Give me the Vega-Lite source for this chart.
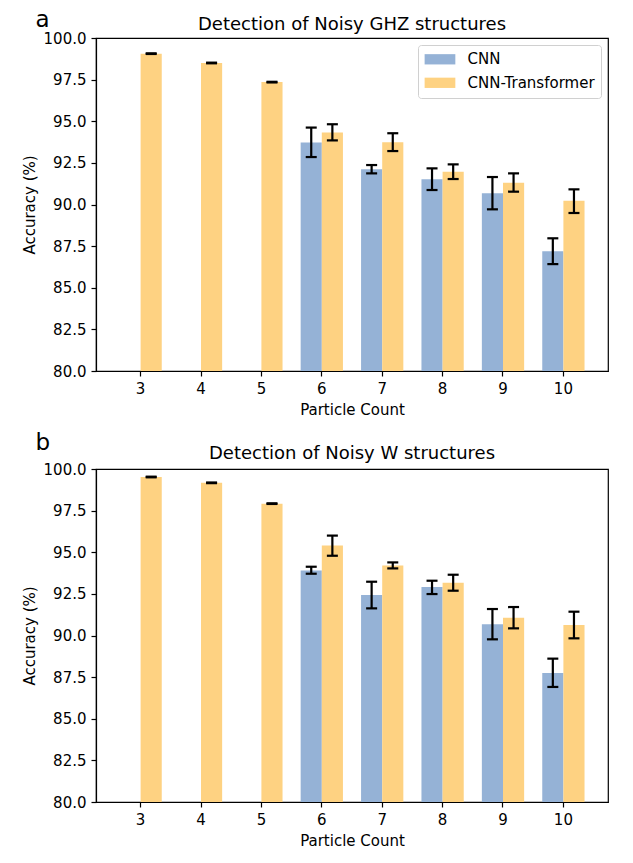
{
  "$schema": "https://vega.github.io/schema/vega-lite/v6.json",
  "background": "white",
  "padding": {"left": 21, "top": 9, "right": 10, "bottom": 5},
  "datasets": {
    "acc": [
      {"panel": "GHZ", "n": 3, "model": "CNN-Transformer", "acc": 99.06, "lo": 99.04, "hi": 99.08},
      {"panel": "GHZ", "n": 4, "model": "CNN-Transformer", "acc": 98.5, "lo": 98.48, "hi": 98.52},
      {"panel": "GHZ", "n": 5, "model": "CNN-Transformer", "acc": 97.35, "lo": 97.33, "hi": 97.37},
      {"panel": "GHZ", "n": 6, "model": "CNN", "acc": 93.72, "lo": 92.85, "hi": 94.62},
      {"panel": "GHZ", "n": 6, "model": "CNN-Transformer", "acc": 94.32, "lo": 93.85, "hi": 94.82},
      {"panel": "GHZ", "n": 7, "model": "CNN", "acc": 92.12, "lo": 91.87, "hi": 92.37},
      {"panel": "GHZ", "n": 7, "model": "CNN-Transformer", "acc": 93.74, "lo": 93.21, "hi": 94.28},
      {"panel": "GHZ", "n": 8, "model": "CNN", "acc": 91.52, "lo": 90.87, "hi": 92.17},
      {"panel": "GHZ", "n": 8, "model": "CNN-Transformer", "acc": 91.96, "lo": 91.53, "hi": 92.41},
      {"panel": "GHZ", "n": 9, "model": "CNN", "acc": 90.67, "lo": 89.71, "hi": 91.65},
      {"panel": "GHZ", "n": 9, "model": "CNN-Transformer", "acc": 91.3, "lo": 90.77, "hi": 91.87},
      {"panel": "GHZ", "n": 10, "model": "CNN", "acc": 87.19, "lo": 86.42, "hi": 87.97},
      {"panel": "GHZ", "n": 10, "model": "CNN-Transformer", "acc": 90.22, "lo": 89.49, "hi": 90.91},
      {"panel": "W", "n": 3, "model": "CNN-Transformer", "acc": 99.52, "lo": 99.5, "hi": 99.54},
      {"panel": "W", "n": 4, "model": "CNN-Transformer", "acc": 99.17, "lo": 99.15, "hi": 99.19},
      {"panel": "W", "n": 5, "model": "CNN-Transformer", "acc": 97.92, "lo": 97.9, "hi": 97.94},
      {"panel": "W", "n": 6, "model": "CNN", "acc": 93.91, "lo": 93.71, "hi": 94.13},
      {"panel": "W", "n": 6, "model": "CNN-Transformer", "acc": 95.4, "lo": 94.79, "hi": 96.0},
      {"panel": "W", "n": 7, "model": "CNN", "acc": 92.43, "lo": 91.63, "hi": 93.23},
      {"panel": "W", "n": 7, "model": "CNN-Transformer", "acc": 94.21, "lo": 94.03, "hi": 94.39},
      {"panel": "W", "n": 8, "model": "CNN", "acc": 92.91, "lo": 92.49, "hi": 93.29},
      {"panel": "W", "n": 8, "model": "CNN-Transformer", "acc": 93.17, "lo": 92.69, "hi": 93.65},
      {"panel": "W", "n": 9, "model": "CNN", "acc": 90.67, "lo": 89.77, "hi": 91.59},
      {"panel": "W", "n": 9, "model": "CNN-Transformer", "acc": 91.07, "lo": 90.43, "hi": 91.71},
      {"panel": "W", "n": 10, "model": "CNN", "acc": 87.75, "lo": 86.91, "hi": 88.61},
      {"panel": "W", "n": 10, "model": "CNN-Transformer", "acc": 90.63, "lo": 89.83, "hi": 91.43}
    ]
  },
  "config": {
    "font": "DejaVu Sans",
    "view": {"stroke": "black", "strokeWidth": 1.2},
    "concat": {"spacing": 14},
    "axis": {
      "grid": false,
      "domainColor": "black",
      "domainWidth": 1.2,
      "tickColor": "black",
      "tickWidth": 1.2,
      "tickSize": 5,
      "labelColor": "black",
      "titleColor": "black",
      "labelFont": "DejaVu Sans",
      "titleFont": "DejaVu Sans",
      "labelFontSize": 15,
      "titleFontSize": 15,
      "titleFontWeight": "normal",
      "labelPadding": 5,
      "titlePadding": 6
    },
    "title": {"font": "DejaVu Sans", "fontWeight": "normal", "color": "black"},
    "legend": {
      "orient": "top-right",
      "offset": 7,
      "fillColor": "white",
      "strokeColor": "#d0d0d0",
      "cornerRadius": 3,
      "padding": 6.3,
      "labelFont": "DejaVu Sans",
      "labelFontSize": 15,
      "labelColor": "black",
      "labelOffset": 27.3,
      "rowPadding": 7.5,
      "symbolType": "M-1,-0.67H3V0.67H-1Z",
      "symbolSize": 236,
      "symbolStrokeWidth": 0,
      "symbolOpacity": 1
    }
  },
  "vconcat": [
    {
      "title": {"text": "a", "anchor": "start", "fontSize": 23, "offset": -17, "dx": 14},
      "vconcat": [
        {
          "width": 512,
          "height": 333,
          "title": {"text": "Detection of Noisy GHZ structures", "fontSize": 18, "frame": "group", "anchor": "middle", "offset": -3},
          "data": {"name": "acc"},
          "transform": [{"filter": "datum.panel == 'GHZ'"}],
          "encoding": {
            "x": {"field": "n", "type": "ordinal", "title": "Particle Count", "scale": {"paddingInner": 0.3, "paddingOuter": 0.3885}, "axis": {"labelAngle": 0}},
            "xOffset": {"field": "model", "type": "nominal", "scale": {"domain": ["CNN", "CNN-Transformer"], "paddingInner": 0, "paddingOuter": 0}}
          },
          "layer": [
            {
              "mark": {"type": "bar", "clip": true},
              "encoding": {
                "y": {"field": "acc", "type": "quantitative", "title": "Accuracy (%)", "scale": {"domain": [80, 100], "nice": false, "zero": false}, "axis": {"values": [80, 82.5, 85, 87.5, 90, 92.5, 95, 97.5, 100], "format": ".1f"}},
                "color": {"field": "model", "type": "nominal", "title": null, "scale": {"domain": ["CNN", "CNN-Transformer"], "range": ["#95b2d6", "#fed282"]}}
              }
            },
            {
              "mark": {"type": "rule", "color": "black", "strokeWidth": 2.2},
              "encoding": {"y": {"field": "lo", "type": "quantitative"}, "y2": {"field": "hi"}}
            },
            {
              "mark": {"type": "tick", "color": "black", "thickness": 2.2, "size": 11, "opacity": 1},
              "encoding": {"y": {"field": "lo", "type": "quantitative"}}
            },
            {
              "mark": {"type": "tick", "color": "black", "thickness": 2.2, "size": 11, "opacity": 1},
              "encoding": {"y": {"field": "hi", "type": "quantitative"}}
            }
          ]
        }
      ]
    },
    {
      "title": {"text": "b", "anchor": "start", "fontSize": 23, "offset": -11, "dx": 14},
      "vconcat": [
        {
          "width": 512,
          "height": 333,
          "title": {"text": "Detection of Noisy W structures", "fontSize": 18, "frame": "group", "anchor": "middle", "offset": -1},
          "data": {"name": "acc"},
          "transform": [{"filter": "datum.panel == 'W'"}],
          "encoding": {
            "x": {"field": "n", "type": "ordinal", "title": "Particle Count", "scale": {"paddingInner": 0.3, "paddingOuter": 0.3885}, "axis": {"labelAngle": 0}},
            "xOffset": {"field": "model", "type": "nominal", "scale": {"domain": ["CNN", "CNN-Transformer"], "paddingInner": 0, "paddingOuter": 0}}
          },
          "layer": [
            {
              "mark": {"type": "bar", "clip": true},
              "encoding": {
                "y": {"field": "acc", "type": "quantitative", "title": "Accuracy (%)", "scale": {"domain": [80, 100], "nice": false, "zero": false}, "axis": {"values": [80, 82.5, 85, 87.5, 90, 92.5, 95, 97.5, 100], "format": ".1f"}},
                "color": {"field": "model", "type": "nominal", "title": null, "scale": {"domain": ["CNN", "CNN-Transformer"], "range": ["#95b2d6", "#fed282"]}}
              }
            },
            {
              "mark": {"type": "rule", "color": "black", "strokeWidth": 2.2},
              "encoding": {"y": {"field": "lo", "type": "quantitative"}, "y2": {"field": "hi"}}
            },
            {
              "mark": {"type": "tick", "color": "black", "thickness": 2.2, "size": 11, "opacity": 1},
              "encoding": {"y": {"field": "lo", "type": "quantitative"}}
            },
            {
              "mark": {"type": "tick", "color": "black", "thickness": 2.2, "size": 11, "opacity": 1},
              "encoding": {"y": {"field": "hi", "type": "quantitative"}}
            }
          ]
        }
      ]
    }
  ]
}
